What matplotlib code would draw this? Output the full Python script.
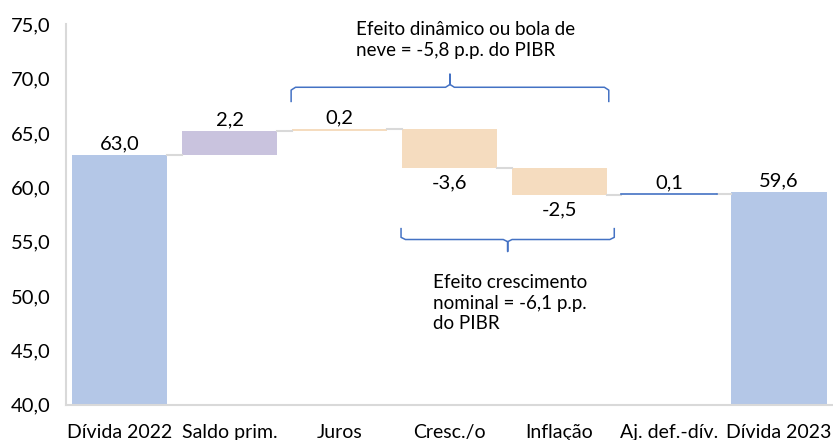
import matplotlib
matplotlib.use("Agg")
import matplotlib.pyplot as plt
import numpy as np

plt.rcParams['font.family'] = ['Lato', 'DejaVu Sans']

categories = ["Dívida 2022", "Saldo prim.", "Juros", "Cresc./o", "Inflação", "Aj. def.-dív.", "Dívida 2023"]
start_value = 63.0
deltas = [2.2, 0.2, -3.6, -2.5, 0.1]
end_value = 59.6
value_labels = ["63,0", "2,2", "0,2", "-3,6", "-2,5", "0,1", "59,6"]
yticks = [40, 45, 50, 55, 60, 65, 70, 75]
note_top = "Efeito dinâmico ou bola de\nneve = -5,8 p.p. do PIBR"
note_bottom = "Efeito crescimento\nnominal = -6,1 p.p.\ndo PIBR"

c_total = "#B4C7E7"
c_saldo = "#C9C3DE"
c_dyn = "#F5DCBF"
c_adj = "#4472C4"
c_brace = "#4472C4"

fig = plt.figure(figsize=(8.33, 4.4), dpi=100)
ax = fig.add_axes([0.079, 0.080, 0.921, 0.865])
x = np.arange(len(categories))
w = 0.87
base = 40

# totals
ax.bar(x[0], start_value - base, bottom=base, width=w, color=c_total)
ax.bar(x[-1], end_value - base, bottom=base, width=w, color=c_total)

levels = [start_value]
cur = start_value
colors = [c_saldo, c_dyn, c_dyn, c_dyn, c_adj]
for i, d in enumerate(deltas):
    b = cur if d >= 0 else cur + d
    if i == 4:
        ax.plot([x[i+1] - w/2, x[i+1] + w/2], [cur + d, cur + d], color=c_adj, lw=1.2, zorder=3)
    else:
        ax.bar(x[i+1], abs(d), bottom=b, width=w, color=colors[i])
    cur = cur + d
    levels.append(cur)

# connectors
for i in range(len(categories) - 1):
    lvl = levels[i] if i < len(levels) else end_value
    ax.plot([x[i] + w/2, x[i+1] - w/2], [lvl, lvl], color="#D9D9D9", lw=1.5, zorder=1)

# value labels
fs = 14.5
ax.text(x[0], start_value + 0.2, value_labels[0], ha='center', va='bottom', fontsize=fs)
ax.text(x[-1], end_value + 0.2, value_labels[-1], ha='center', va='bottom', fontsize=fs)
for i, d in enumerate(deltas):
    top = max(levels[i], levels[i+1])
    bot = min(levels[i], levels[i+1])
    if d >= 0:
        ax.text(x[i+1], top + 0.2, value_labels[i+1], ha='center', va='bottom', fontsize=fs)
    else:
        ax.text(x[i+1], bot - 0.6, value_labels[i+1], ha='center', va='top', fontsize=fs)

def brace(ax, x0, x1, y, h, tip, up=True):
    s = 1 if up else -1
    xm = (x0 + x1) / 2
    r = 0.04
    xs = [x0, x0, x0 + r, xm - r, xm, xm, xm, xm + r, x1 - r, x1, x1]
    ys = [y - s*h, y - s*0.2*h, y, y, y + s*0.2*h, y + s*tip, y + s*0.2*h, y, y, y - s*0.2*h, y - s*h]
    ax.plot(xs, ys, color=c_brace, lw=1.1, clip_on=False)

brace(ax, 1.56, 4.45, 69.2, 1.3, 1.2, up=True)
brace(ax, 2.56, 4.50, 55.2, 1.0, 1.1, up=False)

ax.text(2.15, 75.3, note_top, ha='left', va='top', fontsize=13.5, linespacing=1.3)
ax.text(2.85, 52.0, note_bottom, ha='left', va='top', fontsize=13.5, linespacing=1.25)

ax.set_xlim(-0.49, 6.49)
ax.set_ylim(40, 75)
ax.set_yticks(yticks)
ax.set_yticklabels([f"{v:.1f}".replace('.', ',') for v in yticks], fontsize=14.5)
ax.set_xticks(x)
ax.set_xticklabels(categories, fontsize=14)
ax.tick_params(axis='both', length=0)
ax.tick_params(axis='y', pad=11)
ax.tick_params(axis='x', pad=14)
for s in ['top', 'right']:
    ax.spines[s].set_visible(False)
for s in ['left', 'bottom']:
    ax.spines[s].set_color("#D9D9D9")
    ax.spines[s].set_linewidth(1.5)

fig.savefig("out.png", dpi=100)
